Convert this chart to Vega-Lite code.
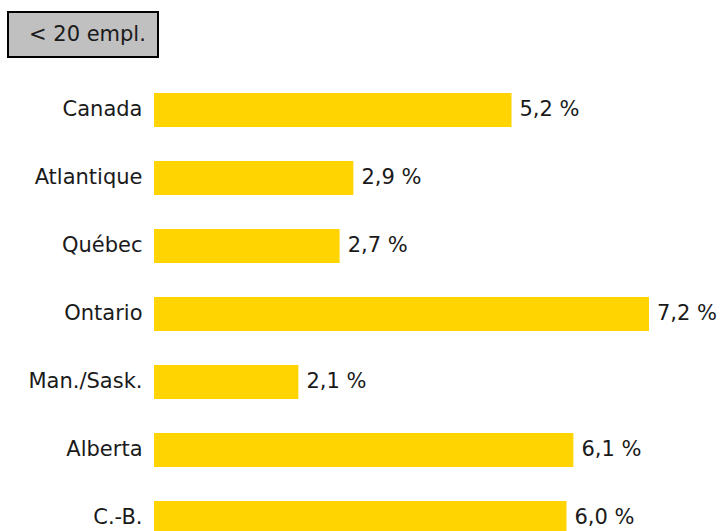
{
  "$schema": "https://vega.github.io/schema/vega-lite/v6.json",
  "autosize": {"type": "none"},
  "padding": {"left": 154, "top": 76, "right": 16, "bottom": 0},
  "width": 550,
  "height": 455,
  "background": "white",
  "data": {
    "values": [
      {"region": "Canada", "valeur": 5.2, "etiquette": "5,2 %", "groupe": "< 20 empl."},
      {"region": "Atlantique", "valeur": 2.9, "etiquette": "2,9 %", "groupe": "< 20 empl."},
      {"region": "Québec", "valeur": 2.7, "etiquette": "2,7 %", "groupe": "< 20 empl."},
      {"region": "Ontario", "valeur": 7.2, "etiquette": "7,2 %", "groupe": "< 20 empl."},
      {"region": "Man./Sask.", "valeur": 2.1, "etiquette": "2,1 %", "groupe": "< 20 empl."},
      {"region": "Alberta", "valeur": 6.1, "etiquette": "6,1 %", "groupe": "< 20 empl."},
      {"region": "C.-B.", "valeur": 6.0, "etiquette": "6,0 %", "groupe": "< 20 empl."}
    ]
  },
  "encoding": {
    "y": {
      "field": "region",
      "type": "nominal",
      "sort": null,
      "scale": {"range": [0, 476], "paddingInner": 0.5, "paddingOuter": 0.25},
      "axis": {
        "title": null,
        "domain": false,
        "ticks": false,
        "labelPadding": 12,
        "labelFont": "DejaVu Sans",
        "labelFontSize": 21,
        "labelColor": "#1a1a1a"
      }
    },
    "x": {
      "field": "valeur",
      "type": "quantitative",
      "scale": {"domain": [0, 8]},
      "axis": null
    }
  },
  "layer": [
    {
      "mark": {"type": "bar", "clip": false},
      "encoding": {
        "color": {
          "field": "groupe",
          "type": "nominal",
          "scale": {"range": ["#FFD400"]},
          "legend": {
            "orient": "none",
            "legendX": -146,
            "legendY": -64,
            "title": null,
            "fillColor": "#C0C0C0",
            "strokeColor": "#000000",
            "padding": 12,
            "labelFont": "DejaVu Sans",
            "labelFontSize": 21,
            "labelColor": "#1a1a1a",
            "symbolSize": 0,
            "symbolStrokeWidth": 0,
            "symbolOpacity": 0,
            "labelOffset": -12,
            "labelLimit": 300,
            "encode": {"legend": {"update": {"strokeWidth": {"value": 2}}}}
          }
        }
      }
    },
    {
      "mark": {
        "type": "text",
        "align": "left",
        "baseline": "middle",
        "dx": 8,
        "font": "DejaVu Sans",
        "fontSize": 21,
        "color": "#1a1a1a"
      },
      "encoding": {"text": {"field": "etiquette"}}
    }
  ],
  "config": {"view": {"stroke": null}}
}
